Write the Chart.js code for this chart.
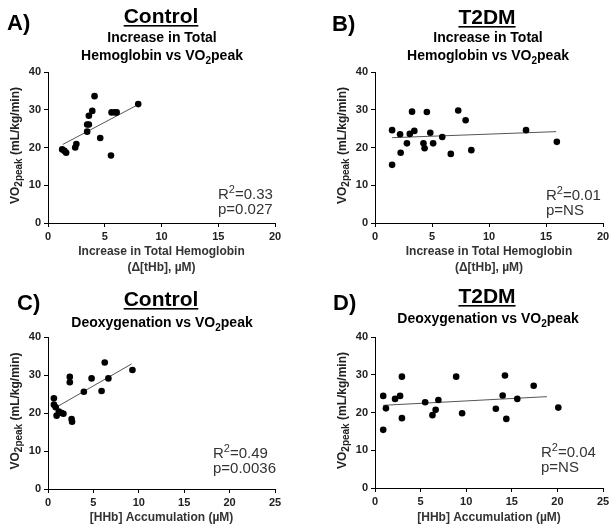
<!DOCTYPE html>
<html>
<head>
<meta charset="utf-8">
<script src="https://cdn.jsdelivr.net/npm/chart.js@4.4.1/dist/chart.umd.min.js"></script>
<style>
  html, body { margin: 0; padding: 0; background: #fff; }
  #wrap { position: relative; width: 614px; height: 531px; overflow: hidden; }
  canvas { position: absolute; }
</style>
</head>
<body>
<div id="wrap">
  <canvas id="chartA" width="300" height="280" style="left:0;top:0"></canvas>
  <canvas id="chartB" width="314" height="280" style="left:300px;top:0"></canvas>
  <canvas id="chartC" width="300" height="251" style="left:0;top:280px"></canvas>
  <canvas id="chartD" width="314" height="251" style="left:300px;top:280px"></canvas>
</div>
<script>
const FONT = '"Liberation Sans", Arial, Helvetica, sans-serif';

// A) Control - increase in total hemoglobin vs VO2peak
const ctrlTHbX = [1.25, 1.45, 1.6, 2.4, 2.5, 3.45, 3.45, 3.6, 3.6, 3.9, 4.1, 4.6, 5.55, 5.6, 5.9, 6.05, 7.95];
const ctrlTHbY = [19.5, 19.1, 18.6, 20.0, 20.9, 24.2, 26.1, 26.1, 28.4, 29.7, 33.6, 22.5, 17.9, 29.3, 29.3, 29.3, 31.5];
const ctrlTHbFitX = [1.3, 7.9];
const ctrlTHbFitY = [20.8, 31.3];

// B) T2DM - increase in total hemoglobin vs VO2peak
const t2dTHbX = [1.5, 1.5, 2.2, 2.25, 2.8, 3.05, 3.25, 3.45, 4.25, 4.35, 4.55, 4.85, 5.1, 5.9, 6.65, 7.3, 7.95, 8.45, 13.25, 15.95];
const t2dTHbY = [24.6, 15.4, 23.5, 18.6, 21.1, 23.6, 29.5, 24.4, 21.1, 19.8, 29.4, 23.9, 21.1, 22.8, 18.3, 29.8, 27.2, 19.3, 24.6, 21.5];
const t2dTHbFitX = [1.5, 15.9];
const t2dTHbFitY = [22.6, 24.2];

// C) Control - deoxygenation vs VO2peak
const ctrlHHbX = [0.65, 0.65, 0.85, 0.95, 1.2, 1.5, 1.7, 2.4, 2.4, 2.6, 2.65, 3.95, 4.8, 5.9, 6.25, 6.65, 9.3];
const ctrlHHbY = [23.9, 22.2, 21.5, 19.3, 20.4, 20.0, 19.8, 29.5, 28.1, 18.4, 17.7, 25.6, 29.1, 25.8, 33.3, 29.1, 31.3];
const ctrlHHbFitX = [0.75, 9.2];
const ctrlHHbFitY = [21.3, 32.9];

// D) T2DM - deoxygenation vs VO2peak
const t2dHHbX = [0.9, 0.9, 1.2, 2.2, 2.75, 2.95, 2.95, 5.5, 6.3, 6.65, 6.95, 8.9, 9.55, 13.25, 14.0, 14.25, 14.4, 15.6, 17.4, 20.1];
const t2dHHbY = [24.4, 15.4, 21.1, 23.6, 24.4, 29.5, 18.5, 22.7, 19.3, 20.7, 23.3, 29.5, 19.8, 21.0, 24.5, 29.8, 18.3, 23.6, 27.1, 21.3];
const t2dHHbFitX = [0.9, 18.85];
const t2dHHbFitY = [21.9, 24.2];

// tick labels
const yTickValues = [0, 10, 20, 30, 40];
const xTickValuesTHb = [0, 5, 10, 15, 20];
const xTickValuesHHb = [0, 5, 10, 15, 20, 25];

// texts
const panelLetters = ['A)', 'B)', 'C)', 'D)'];
const groupNames = ['Control', 'T2DM', 'Control', 'T2DM'];
const subTitleTHb = ['Increase in Total', 'Hemoglobin vs VO_{2}peak'];
const subTitleHHb = ['Deoxygenation vs VO_{2}peak'];
const xTitleTHb = ['Increase in Total Hemoglobin', '(\u0394[tHb], \u00b5M)'];
const xTitleHHb = ['[HHb] Accumulation (\u00b5M)'];
const yTitle = 'VO_{2peak} (mL/kg/min)';
const statsA = ['R^{2}=0.33', 'p=0.027'];
const statsB = ['R^{2}=0.01', 'p=NS'];
const statsC = ['R^{2}=0.49', 'p=0.0036'];
const statsD = ['R^{2}=0.04', 'p=NS'];

// split "VO_{2}peak" / "R^{2}" into plain, sub and sup parts
function parseRich(str) {
    const parts = [];
    const re = /(_|\^)\{([^}]*)\}/g;
    let last = 0, m;
    while ((m = re.exec(str)) !== null) {
        if (m.index > last) parts.push({ t: str.slice(last, m.index) });
        parts.push({ t: m[2], sub: m[1] === '_', sup: m[1] === '^' });
        last = re.lastIndex;
    }
    if (last < str.length) parts.push({ t: str.slice(last) });
    return parts;
}

function drawRich(ctx, str, x, y, size, weight, align, color, smallScale) {
    const parts = parseRich(str);
    const small = smallScale || 0.7;
    const fontFor = p => `${weight} ${(p.sub || p.sup) ? Math.round(size * small) : size}px ${FONT}`;
    let total = 0;
    parts.forEach(p => { ctx.font = fontFor(p); total += ctx.measureText(p.t).width; });
    let cx = align === 'center' ? x - total / 2 : (align === 'right' ? x - total : x);
    ctx.fillStyle = color;
    ctx.textAlign = 'left';
    ctx.textBaseline = 'alphabetic';
    parts.forEach(p => {
        ctx.font = fontFor(p);
        const dy = p.sub ? size * 0.25 : (p.sup ? -size * 0.4 : 0);
        ctx.fillText(p.t, cx, y + dy);
        cx += ctx.measureText(p.t).width;
    });
    return total;
}

// headings, y axis title and the R2 / p annotation
const panelText = {
    id: 'panelText',
    afterDraw(chart, args, opts) {
        const ctx = chart.ctx;
        const area = chart.chartArea;
        ctx.save();
        drawRich(ctx, opts.letter, opts.letterX, opts.letterY, 22, 'bold', 'left', '#000');
        const w = drawRich(ctx, opts.group, opts.groupX, opts.groupY, 21, 'bold', 'center', '#000');
        ctx.fillStyle = '#000';
        ctx.fillRect(opts.groupX - w / 2, opts.groupY + 2, w, 1.6);
        opts.sub.forEach((line, i) => {
            drawRich(ctx, line, opts.groupX + 1, opts.subY + i * 18, 14, 'bold', 'center', '#000');
        });
        // rotated y title
        ctx.save();
        ctx.translate(area.left - 29, (area.top + area.bottom) / 2 - 2);
        ctx.rotate(-Math.PI / 2);
        drawRich(ctx, yTitle, 0, 0, 12, 'bold', 'center', '#222', 0.8);
        ctx.restore();
        opts.stats.forEach((line, i) => {
            drawRich(ctx, line, opts.statsX, opts.statsY + i * 15, 15, 'normal', 'left', '#333');
        });
        ctx.restore();
    }
};

function makePanel(id, xs, ys, fitX, fitY, xTicks, xTitle, text, layout) {
    const points = xs.map((x, i) => ({ x: x, y: ys[i] }));
    const fit = fitX.map((x, i) => ({ x: x, y: fitY[i] }));
    const tickFont = { family: FONT, size: 11, weight: 'bold' };
    new Chart(document.getElementById(id), {
        type: 'scatter',
        data: {
            datasets: [{
                data: points,
                backgroundColor: '#000',
                borderColor: '#000',
                pointRadius: 3.3,
                pointBorderWidth: 0
            }, {
                data: fit,
                showLine: true,
                borderColor: '#555',
                borderWidth: 1,
                pointRadius: 0
            }]
        },
        options: {
            responsive: false,
            animation: false,
            devicePixelRatio: 1,
            layout: { padding: { top: layout.top, right: layout.right, left: 0, bottom: 0 } },
            plugins: {
                legend: { display: false },
                tooltip: { enabled: false },
                panelText: text
            },
            scales: {
                x: {
                    type: 'linear',
                    min: 0,
                    max: xTicks[xTicks.length - 1],
                    afterBuildTicks: s => { s.ticks = xTicks.map(v => ({ value: v })); },
                    afterFit: s => { s.height = layout.xHeight; },
                    grid: { drawOnChartArea: false, drawTicks: true, tickLength: 4, tickColor: '#000', tickWidth: 1 },
                    border: { display: true, color: '#000', width: 1 },
                    ticks: { font: tickFont, color: '#222', padding: 3, maxRotation: 0 },
                    title: {
                        display: true,
                        text: xTitle,
                        color: '#333',
                        font: { family: FONT, size: 12, weight: 'bold', lineHeight: 16 / 12 },
                        padding: { top: 0, bottom: layout.titlePad }
                    }
                },
                y: {
                    type: 'linear',
                    min: 0,
                    max: 40,
                    afterBuildTicks: s => { s.ticks = yTickValues.map(v => ({ value: v })); },
                    afterFit: s => { s.width = layout.yWidth; },
                    grid: { drawOnChartArea: false, drawTicks: true, tickLength: 4, tickColor: '#000', tickWidth: 1 },
                    border: { display: true, color: '#000', width: 1 },
                    ticks: { font: tickFont, color: '#222', padding: 3 }
                }
            }
        },
        plugins: [panelText]
    });
}

makePanel('chartA', ctrlTHbX, ctrlTHbY, ctrlTHbFitX, ctrlTHbFitY, xTickValuesTHb, xTitleTHb,
    { letter: panelLetters[0], letterX: 7, letterY: 30, group: groupNames[0], groupX: 161, groupY: 23,
      sub: subTitleTHb, subY: 42, stats: statsA, statsX: 218, statsY: 199 },
    { top: 72, right: 25, yWidth: 48, xHeight: 57, titlePad: 4 });

makePanel('chartB', t2dTHbX, t2dTHbY, t2dTHbFitX, t2dTHbFitY, xTickValuesTHb, xTitleTHb,
    { letter: panelLetters[1], letterX: 32, letterY: 31, group: groupNames[1], groupX: 187, groupY: 24,
      sub: subTitleTHb, subY: 42, stats: statsB, statsX: 246, statsY: 200 },
    { top: 72, right: 11, yWidth: 75, xHeight: 57, titlePad: 4 });

makePanel('chartC', ctrlHHbX, ctrlHHbY, ctrlHHbFitX, ctrlHHbFitY, xTickValuesHHb, xTitleHHb,
    { letter: panelLetters[2], letterX: 17, letterY: 30, group: groupNames[2], groupX: 161, groupY: 26,
      sub: subTitleHHb, subY: 47, stats: statsC, statsX: 213, statsY: 178 },
    { top: 57, right: 25, yWidth: 48, xHeight: 42, titlePad: 5 });

makePanel('chartD', t2dHHbX, t2dHHbY, t2dHHbFitX, t2dHHbFitY, xTickValuesHHb, xTitleHHb,
    { letter: panelLetters[3], letterX: 33, letterY: 30, group: groupNames[3], groupX: 187, groupY: 23,
      sub: subTitleHHb, subY: 43, stats: statsD, statsX: 241, statsY: 177 },
    { top: 57, right: 11, yWidth: 75, xHeight: 43, titlePad: 5 });
</script>
</body>
</html>
